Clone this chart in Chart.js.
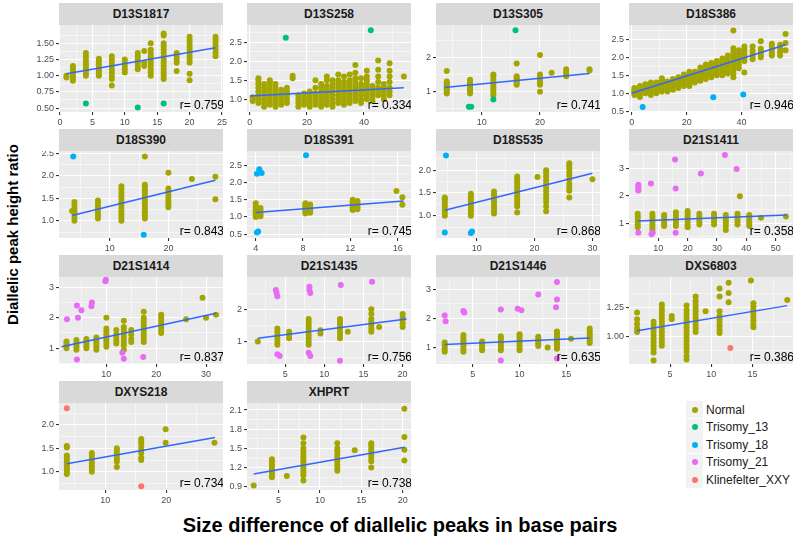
<!DOCTYPE html>
<html>
<head>
<meta charset="utf-8">
<script src="https://cdn.jsdelivr.net/npm/chart.js@4.4.1/dist/chart.umd.min.js"></script>
<style>
  body { margin: 0; width: 800px; height: 539px; position: relative; overflow: hidden; background: #fff;
         font-family: "Liberation Sans", Arial, sans-serif; }
  canvas { position: absolute; }
  .strip { position: absolute; height: 22px; line-height: 22px; background: #D9D9D9; color: #1A1A1A;
           font-weight: bold; font-size: 12px; text-align: center; }
  .title { position: absolute; font-weight: bold; color: #000; white-space: nowrap; text-align: center; }
  #legend { position: absolute; left: 686px; top: 401px; font-size: 12px; color: #1A1A1A; }
  #legend .row { height: 17.5px; display: flex; align-items: center; }
  #legend .key { width: 17px; height: 17px; background: #F2F2F2; display: flex; align-items: center; justify-content: center; margin-right: 3px; }
  #legend .dot { width: 6px; height: 6px; border-radius: 50%; }
</style>
</head>
<body>
<script>
const GROUPS = ['Normal', 'Trisomy_13', 'Trisomy_18', 'Trisomy_21', 'Klinefelter_XXY'];
const GROUP_COLORS = ['#A3A500', '#00BF7D', '#00B0F6', '#E76BF3', '#F8766D'];

// ---- D13S1817 ----
const d13s1817X = [1, 2, 4, 6, 8, 10, 12, 13, 14, 16, 18, 20, 24];
const d13s1817Y = [
  [0.97, 1.0],
  [0.92, 0.96, 1.0, 1.04, 1.08, 1.12, 1.15],
  [1.0, 1.04, 1.08, 1.12, 1.16, 1.2, 1.25, 1.3, 1.35],
  [1.0, 1.04, 1.08, 1.12, 1.17, 1.22, 1.26],
  [0.85, 0.95, 1.0, 1.05, 1.1, 1.15, 1.2, 1.25, 1.3],
  [1.05, 1.1, 1.15, 1.2, 1.25],
  [1.1, 1.15, 1.2, 1.25, 1.3, 1.35],
  [1.15, 1.2, 1.38],
  [1.0, 1.05, 1.1, 1.15, 1.2, 1.25, 1.3, 1.35, 1.4, 1.5],
  [0.95, 1.0, 1.05, 1.1, 1.15, 1.2, 1.25, 1.3, 1.35, 1.4, 1.45, 1.5, 1.62, 1.65],
  [1.07, 1.2, 1.25, 1.3, 1.35],
  [0.93, 1.03, 1.2, 1.25, 1.3, 1.35, 1.4, 1.45, 1.5, 1.55, 1.6],
  [1.3, 1.35, 1.4, 1.45, 1.5, 1.55, 1.6]
];
const d13s1817T13 = [[4, 0.57], [12, 0.51], [16, 0.57]];
const d13s1817Fit = [[1, 1.03], [24, 1.43]];
const d13s1817XTicks = ['0', '5', '10', '15', '20', '25'];
const d13s1817YTicks = ['0.50', '0.75', '1.00', '1.25', '1.50'];

// ---- D13S258 ----
const d13s258X = [1, 3, 5, 7, 9, 11, 13, 15, 17, 19, 21, 23, 25, 27, 29, 31, 33, 35, 37, 39, 41, 43, 45, 47, 49, 54];
const d13s258Y = [
  [0.95, 1.0, 1.05],
  [0.9, 1.0, 1.1, 1.2, 1.3, 1.4, 1.5, 1.55],
  [0.8, 0.9, 1.0, 1.1, 1.2, 1.3, 1.4],
  [0.85, 0.95, 1.05, 1.15, 1.25, 1.35, 1.45, 1.5],
  [0.8, 0.9, 1.0, 1.1, 1.2, 1.3, 1.4],
  [0.85, 0.95, 1.05, 1.15, 1.25],
  [0.9, 1.0, 1.1, 1.2, 1.3],
  [1.55, 1.62],
  [0.8, 0.9, 1.0, 1.1],
  [0.85, 0.95, 1.05, 1.15],
  [0.8, 0.9, 1.0, 1.1, 1.2],
  [0.85, 0.95, 1.05, 1.15, 1.3, 1.5],
  [0.8, 0.9, 1.0, 1.1, 1.2, 1.3, 1.4],
  [0.85, 0.95, 1.05, 1.15, 1.25, 1.35, 1.5, 1.6],
  [0.8, 0.9, 1.0, 1.1, 1.2, 1.3, 1.4, 1.5],
  [0.9, 1.0, 1.1, 1.2, 1.3, 1.4, 1.5, 1.65],
  [0.85, 0.95, 1.05, 1.15, 1.25, 1.35, 1.45, 1.6],
  [0.9, 1.0, 1.1, 1.2, 1.3, 1.4, 1.5, 1.65],
  [0.95, 1.05, 1.15, 1.25, 1.35, 1.45, 1.55, 1.7, 1.9],
  [0.9, 1.0, 1.1, 1.2, 1.3, 1.4, 1.55],
  [1.0, 1.1, 1.2, 1.3, 1.4, 1.5, 1.6, 1.75],
  [0.95, 1.05, 1.15, 1.25, 1.35],
  [1.1, 1.2, 1.3, 1.45, 1.6, 1.78, 2.02],
  [1.0, 1.1, 1.2, 1.3, 1.4],
  [1.1, 1.2, 1.3, 1.45, 1.6, 1.75, 1.95],
  [1.6]
];
const d13s258T13 = [[12.6, 2.62], [42.4, 2.82]];
const d13s258Fit = [[0, 1.08], [54, 1.3]];
const d13s258XTicks = ['0', '20', '40'];
const d13s258YTicks = ['1.0', '1.5', '2.0', '2.5'];

// ---- D13S305 ----
const d13s305X = [4, 8, 12, 16, 20, 22, 24.5, 28.5];
const d13s305Y = [
  [0.95, 1.0, 1.05, 1.1, 1.15, 1.2, 1.25, 1.3, 1.6],
  [0.95, 1.0, 1.05, 1.1, 1.15, 1.2, 1.25, 1.3, 1.35],
  [0.9, 0.97, 1.05, 1.12, 1.2, 1.27, 1.35, 1.45, 1.5],
  [1.2, 1.25, 1.3, 1.35, 1.4, 1.45, 1.82],
  [1.0, 1.2, 1.27, 1.35, 1.42, 1.5, 2.07],
  [1.55],
  [1.45, 1.52, 1.58, 1.65],
  [1.62, 1.65]
];
const d13s305T13 = [[7.8, 0.56], [8.2, 0.56], [12, 0.77], [15.8, 2.79]];
const d13s305Fit = [[3.6, 1.12], [28.5, 1.53]];
const d13s305XTicks = ['10', '20'];
const d13s305YTicks = ['1', '2'];

// ---- D18S386 ----
const d18s386X = [1, 3, 5, 7, 9, 11, 13, 15, 17, 19, 21, 23, 25, 27, 29, 31, 33, 35, 37, 39, 41, 44, 47, 51, 54, 56];
const d18s386Y = [
  [0.95, 1.0, 1.05, 1.1, 1.15],
  [0.9, 0.98, 1.05, 1.12, 1.2],
  [1.0, 1.07, 1.14, 1.21, 1.25],
  [0.95, 1.03, 1.1, 1.18, 1.25, 1.3],
  [1.0, 1.08, 1.15, 1.22, 1.3],
  [1.05, 1.12, 1.2, 1.28, 1.35, 1.42],
  [1.05, 1.12, 1.2, 1.27, 1.33],
  [1.1, 1.18, 1.26, 1.34, 1.4],
  [1.15, 1.22, 1.3, 1.38, 1.45],
  [1.2, 1.28, 1.36, 1.44, 1.52],
  [1.2, 1.28, 1.36, 1.44, 1.52, 1.6],
  [1.3, 1.38, 1.46, 1.54, 1.6],
  [1.35, 1.43, 1.5, 1.58, 1.65, 1.72],
  [1.4, 1.48, 1.56, 1.64, 1.72, 1.8],
  [1.45, 1.52, 1.6, 1.68, 1.76, 1.84],
  [1.5, 1.58, 1.66, 1.74, 1.82, 1.9],
  [1.5, 1.58, 1.66, 1.74, 1.82, 1.9, 1.97],
  [1.55, 1.63, 1.71, 1.79, 1.87, 1.95, 2.05],
  [1.45, 1.55, 1.65, 1.75, 1.85, 1.95, 2.05, 2.15, 2.25, 2.75],
  [1.7, 1.8, 1.9, 2.0, 2.1, 2.2],
  [1.58, 1.9, 1.98, 2.06, 2.14, 2.22, 2.3],
  [1.95, 2.03, 2.11, 2.19, 2.3],
  [2.0, 2.08, 2.16, 2.24, 2.45],
  [2.05, 2.13, 2.21, 2.3, 2.38],
  [2.05, 2.15, 2.25, 2.35],
  [2.2, 2.4, 2.65]
];
const d18s386T18 = [[4, 0.62], [29.7, 0.89], [40.6, 0.97]];
const d18s386Fit = [[0, 1.0], [56, 2.35]];
const d18s386XTicks = ['0', '20', '40'];
const d18s386YTicks = ['0.5', '1.0', '1.5', '2.0', '2.5'];

// ---- D18S390 ----
const d18s390X = [3.6, 4, 8, 12, 16, 20, 24, 28];
const d18s390Y = [
  [1.22],
  [1.0, 1.07, 1.14, 1.21, 1.28, 1.35, 1.42],
  [1.05, 1.12, 1.19, 1.26, 1.33, 1.4, 1.45],
  [1.0, 1.07, 1.14, 1.21, 1.28, 1.35, 1.42, 1.49, 1.56, 1.63, 1.7, 1.77],
  [1.05, 1.12, 1.19, 1.26, 1.33, 1.4, 1.47, 1.54, 1.61, 1.68, 1.75, 1.8, 2.43],
  [1.3, 1.37, 1.44, 1.51, 1.58, 1.65, 1.72, 2.07],
  [1.93],
  [1.98, 1.48]
];
const d18s390T18 = [[3.8, 2.43], [15.8, 0.69]];
const d18s390Fit = [[3.6, 1.12], [28, 1.9]];
const d18s390XTicks = ['10', '20'];
const d18s390YTicks = ['1.0', '1.5', '2.0', '2.5'];

// ---- D18S391 ----
const d18s391X = [4, 4.4, 8.2, 8.6, 12.2, 12.6, 15.9, 16.4];
const d18s391Y = [
  [1.0, 1.05, 1.1, 1.15, 1.2, 1.25, 1.3, 1.4],
  [1.02, 1.08, 1.14, 1.2, 1.26],
  [1.1, 1.15, 1.2, 1.25, 1.3, 1.35, 1.4],
  [1.12, 1.18, 1.24, 1.3, 1.36],
  [1.2, 1.25, 1.3, 1.35, 1.4, 1.45, 1.5],
  [1.22, 1.28, 1.34, 1.4, 1.46],
  [1.75],
  [1.57, 1.35]
];
const d18s391T18 = [[4.1, 2.25], [4.3, 2.3], [4.3, 2.38], [4.5, 2.27], [8.25, 2.79], [4.1, 0.55], [4.2, 0.58]];
const d18s391Fit = [[4, 1.13], [16.5, 1.46]];
const d18s391XTicks = ['4', '8', '12', '16'];
const d18s391YTicks = ['0.5', '1.0', '1.5', '2.0', '2.5'];

// ---- D18S535 ----
const d18s535X = [4.5, 9, 13, 17, 20.5, 22, 26, 30];
const d18s535Y = [
  [1.0, 1.06, 1.12, 1.18, 1.24, 1.3, 1.36, 1.4],
  [1.0, 1.06, 1.12, 1.18, 1.24, 1.3, 1.36, 1.42, 1.48],
  [1.05, 1.11, 1.17, 1.23, 1.29, 1.35, 1.41, 1.47, 1.53],
  [1.07, 1.2, 1.26, 1.32, 1.38, 1.44, 1.5, 1.56, 1.62, 1.68, 1.74, 1.8, 1.86],
  [1.85],
  [1.1, 1.2, 1.3, 1.38, 1.46, 1.54, 1.62, 1.7, 1.78, 1.86, 1.94, 2.0],
  [1.4, 1.55, 1.62, 1.7, 1.8, 1.88, 1.96, 2.04, 2.1, 2.15],
  [1.8]
];
const d18s535T18 = [[4.7, 2.32], [4.5, 0.63], [9.0, 0.62], [9.2, 0.65]];
const d18s535Fit = [[4.5, 1.12], [30, 1.93]];
const d18s535XTicks = ['10', '20', '30'];
const d18s535YTicks = ['1.0', '1.5', '2.0'];

// ---- D21S1411 ----
const d21s1411X = [3, 8, 12, 16, 20, 24, 29, 33, 37, 37.8, 41, 45, 53.5];
const d21s1411Y = [
  [0.85, 0.95, 1.05, 1.15, 1.25, 1.35],
  [0.75, 0.85, 0.95, 1.05, 1.15, 1.25, 1.35],
  [0.9, 1.0, 1.1, 1.2, 1.3],
  [0.9, 1.0, 1.1, 1.2, 1.3, 1.4],
  [0.85, 0.95, 1.05, 1.15, 1.25, 1.35, 1.45],
  [0.95, 1.05, 1.15, 1.25, 1.35],
  [0.95, 1.05, 1.15, 1.25, 1.35],
  [0.75, 0.9, 1.0, 1.1, 1.2, 1.3],
  [0.95, 1.05, 1.15, 1.25, 1.35],
  [1.99],
  [0.9, 1.0, 1.1, 1.2, 1.3],
  [1.2],
  [1.25]
];
const d21s1411T21 = [[3.2, 2.2], [3.2, 2.27], [3.2, 2.34], [3.2, 2.41], [7.5, 2.45], [15.7, 3.33], [15.9, 2.27],
  [24.5, 2.82], [32.7, 3.49], [36.7, 2.98], [3.2, 0.65], [7.7, 0.6], [8.1, 0.65], [15.9, 0.65]];
const d21s1411Fit = [[3, 1.08], [53.7, 1.3]];
const d21s1411XTicks = ['10', '20', '30', '40', '50'];
const d21s1411YTicks = ['1', '2', '3'];

// ---- D21S1414 ----
const d21s1414X = [2, 4, 6, 8, 10, 12, 13.5, 15, 17.5, 21, 26, 29.3, 30, 32];
const d21s1414Y = [
  [1.0, 1.08, 1.16, 1.22],
  [0.95, 1.03, 1.11, 1.19, 1.27],
  [1.0, 1.08, 1.16, 1.24, 1.3],
  [0.95, 1.03, 1.11, 1.19, 1.27, 1.35],
  [1.05, 1.15, 1.25, 1.35, 1.45, 1.55, 1.65, 2.0],
  [1.15, 1.25, 1.35, 1.45, 1.6],
  [0.95, 1.1, 1.2, 1.3, 1.4, 1.5, 1.6, 1.7, 1.9],
  [1.2, 1.3, 1.45, 1.6],
  [1.2, 1.3, 1.4, 1.5, 1.6, 1.7, 1.8, 1.9, 2.0, 2.2],
  [1.5, 1.6, 1.7, 1.8, 1.9, 2.0, 2.1],
  [1.95],
  [2.66],
  [2.0],
  [2.1]
];
const d21s1414T21 = [[2.1, 1.95], [4.3, 2.0], [4.1, 2.4], [5.0, 2.25], [7.0, 2.38], [7.1, 2.5], [9.8, 3.2], [9.9, 3.25],
  [4.1, 0.63], [13.2, 0.85], [13.5, 0.65], [17.4, 0.71]];
const d21s1414Fit = [[1, 1.05], [32, 2.15]];
const d21s1414XTicks = ['10', '20', '30'];
const d21s1414YTicks = ['1', '2', '3'];

// ---- D21S1435 ----
const d21s1435X = [1.5, 4, 5.5, 8, 9.5, 12, 13, 16, 17, 20];
const d21s1435Y = [
  [1.0],
  [0.9, 1.0, 1.1, 1.2, 1.3, 1.4],
  [1.1, 1.2, 1.3],
  [0.9, 1.0, 1.1, 1.2, 1.3, 1.4, 1.5, 1.6, 1.7],
  [1.25, 1.35],
  [1.1, 1.2, 1.3, 1.4, 1.5, 1.6, 1.7],
  [1.3],
  [1.3, 1.4, 1.5, 1.6, 1.7, 1.85, 2.0],
  [1.45],
  [1.45, 1.55, 1.65, 1.75, 1.85]
];
const d21s1435T21 = [[3.8, 2.6], [3.9, 2.5], [4.0, 2.4], [8.1, 2.7], [8.1, 2.6], [8.2, 2.5], [12.1, 2.75], [16.1, 2.85],
  [4.0, 0.6], [4.3, 0.55], [8.0, 0.65], [8.2, 0.55], [12.0, 0.4]];
const d21s1435Fit = [[1.5, 1.1], [20.5, 1.7]];
const d21s1435XTicks = ['5', '10', '15', '20'];
const d21s1435YTicks = ['1', '2'];

// ---- D21S1446 ----
const d21s1446X = [2, 4, 6, 8, 10, 12, 13, 14, 15.5, 17.5];
const d21s1446Y = [
  [0.85, 0.93, 1.01, 1.09, 1.17],
  [0.85, 0.93, 1.01, 1.09, 1.17, 1.25, 1.33, 1.43],
  [0.9, 0.98, 1.06, 1.14, 1.2],
  [0.9, 0.98, 1.06, 1.14, 1.22, 1.3, 1.38],
  [0.9, 0.98, 1.06, 1.14, 1.22, 1.3, 1.38, 1.45],
  [1.05, 1.13, 1.21, 1.29, 1.37],
  [1.0],
  [0.95, 1.03, 1.11, 1.19, 1.27, 1.35, 1.43, 1.51, 1.55],
  [1.3],
  [1.15, 1.23, 1.31, 1.39, 1.47, 1.55, 1.65]
];
const d21s1446T21 = [[2, 2.1], [2.1, 1.9], [4, 2.25], [4.1, 2.2], [8, 2.3], [9.8, 2.33], [10.2, 2.28], [12, 2.82],
  [14, 3.25], [14, 2.65], [13.9, 2.38], [8, 0.55], [14, 0.62]];
const d21s1446Fit = [[2, 1.1], [17.5, 1.32]];
const d21s1446XTicks = ['5', '10', '15'];
const d21s1446YTicks = ['1', '2', '3'];

// ---- DXS6803 ----
const dxs6803X = [1, 3, 4, 5.2, 7, 8.1, 9.3, 11, 12.1, 14.8, 15.1, 19.2];
const dxs6803Y = [
  [1.04, 1.07, 1.11, 1.15, 1.21],
  [0.79, 0.86, 0.89, 0.92, 0.95, 0.98, 1.01, 1.04, 1.07, 1.1, 1.13],
  [0.92, 0.95, 0.98, 1.01, 1.04, 1.07, 1.1, 1.13, 1.16, 1.19, 1.22, 1.25, 1.28],
  [1.15, 1.18],
  [0.8, 0.83, 0.87, 0.9, 0.93, 0.96, 0.99, 1.02, 1.05, 1.08, 1.11, 1.14, 1.17, 1.2, 1.23, 1.27],
  [1.04, 1.07, 1.1, 1.13, 1.16, 1.19, 1.22, 1.25, 1.28, 1.31, 1.35],
  [1.22],
  [1.03, 1.06, 1.09, 1.12, 1.15, 1.18, 1.22, 1.35, 1.42],
  [1.3, 1.38, 1.47],
  [1.49],
  [1.08, 1.11, 1.14, 1.17, 1.2, 1.23, 1.26, 1.29],
  [1.32]
];
const dxs6803KF = [[12.3, 0.9]];
const dxs6803Fit = [[1, 1.05], [19.2, 1.27]];
const dxs6803XTicks = ['5', '10', '15'];
const dxs6803YTicks = ['1.00', '1.25'];

// ---- DXYS218 ----
const dxys218X = [3.7, 7.8, 11.9, 15.9, 19.9, 27.9];
const dxys218Y = [
  [0.95, 1.0, 1.05, 1.1, 1.15, 1.2, 1.25, 1.3, 1.35, 1.52, 1.55],
  [1.0, 1.06, 1.12, 1.18, 1.24, 1.3, 1.36, 1.4],
  [1.1, 1.22, 1.28, 1.34, 1.4, 1.46, 1.5],
  [1.25, 1.3, 1.4, 1.46, 1.52, 1.6, 1.66, 1.7],
  [1.62, 1.91],
  [1.62]
];
const dxys218KF = [[3.7, 2.36], [15.9, 0.69]];
const dxys218Fit = [[3.7, 1.17], [28, 1.73]];
const dxys218XTicks = ['10', '20'];
const dxys218YTicks = ['1.0', '1.5', '2.0'];

// ---- XHPRT ----
const xhprtX = [2, 4.2, 6, 8, 12.1, 14.2, 16.2, 20.2];
const xhprtY = [
  [0.92],
  [1.05, 1.09, 1.13, 1.17, 1.21, 1.25, 1.29, 1.33],
  [1.07],
  [1.0, 1.08, 1.12, 1.16, 1.2, 1.24, 1.28, 1.32, 1.36, 1.4, 1.45, 1.5, 1.58, 1.67],
  [1.15, 1.2, 1.25, 1.3, 1.35, 1.4, 1.45, 1.5, 1.58],
  [1.47],
  [1.2, 1.3, 1.35, 1.4, 1.45, 1.5, 1.55, 1.58],
  [1.31, 1.48, 1.68, 2.12]
];
const xhprtFit = [[2, 1.1], [20.2, 1.52]];
const xhprtXTicks = ['5', '10', '15', '20'];
const xhprtYTicks = ['0.9', '1.2', '1.5', '1.8', '2.1'];

// layout of the facet grid
const AXIS_W = 34, AXIS_H = 20, PANEL_W = 164, PANEL_H = 87, STRIP_H = 22, RIGHT_PAD = 10;
const COL_LEFT = [59, 247, 436, 629];
const ROW_TOP = [25, 151, 277, 403];
const FONT = '"Liberation Sans", Arial, sans-serif';

const panels = [
  { name: 'D13S1817', r: '0.759', xs: d13s1817X, ys: d13s1817Y, extra: [[1, d13s1817T13]], fit: d13s1817Fit,
    xTicks: d13s1817XTicks, yTicks: d13s1817YTicks, x: [-0.15, 25.15], y: [0.44, 1.78] },
  { name: 'D13S258', r: '0.334', xs: d13s258X, ys: d13s258Y, extra: [[1, d13s258T13]], fit: d13s258Fit,
    xTicks: d13s258XTicks, yTicks: d13s258YTicks, x: [-1, 56.5], y: [0.66, 2.96] },
  { name: 'D13S305', r: '0.741', xs: d13s305X, ys: d13s305Y, extra: [[1, d13s305T13]], fit: d13s305Fit,
    xTicks: d13s305XTicks, yTicks: d13s305YTicks, x: [2.16, 30.3], y: [0.41, 2.94] },
  { name: 'D18S386', r: '0.946', xs: d18s386X, ys: d18s386Y, extra: [[2, d18s386T18]], fit: d18s386Fit,
    xTicks: d18s386XTicks, yTicks: d18s386YTicks, x: [-0.97, 58.7], y: [0.48, 2.9] },
  { name: 'D18S390', r: '0.843', xs: d18s390X, ys: d18s390Y, extra: [[2, d18s390T18]], fit: d18s390Fit,
    xTicks: d18s390XTicks, yTicks: d18s390YTicks, x: [1.37, 29.3], y: [0.62, 2.55] },
  { name: 'D18S391', r: '0.745', xs: d18s391X, ys: d18s391Y, extra: [[2, d18s391T18]], fit: d18s391Fit,
    xTicks: d18s391XTicks, yTicks: d18s391YTicks, x: [3.26, 17.13], y: [0.39, 2.91] },
  { name: 'D18S535', r: '0.868', xs: d18s535X, ys: d18s535Y, extra: [[2, d18s535T18]], fit: d18s535Fit,
    xTicks: d18s535XTicks, yTicks: d18s535YTicks, x: [2.98, 31.3], y: [0.51, 2.42] },
  { name: 'D21S1411', r: '0.358', xs: d21s1411X, ys: d21s1411Y, extra: [[3, d21s1411T21]], fit: d21s1411Fit,
    xTicks: d21s1411XTicks, yTicks: d21s1411YTicks, x: [0.02, 55.9], y: [0.46, 3.64] },
  { name: 'D21S1414', r: '0.837', xs: d21s1414X, ys: d21s1414Y, extra: [[3, d21s1414T21]], fit: d21s1414Fit,
    xTicks: d21s1414XTicks, yTicks: d21s1414YTicks, x: [0.5, 33.4], y: [0.48, 3.34] },
  { name: 'D21S1435', r: '0.756', xs: d21s1435X, ys: d21s1435Y, extra: [[3, d21s1435T21]], fit: d21s1435Fit,
    xTicks: d21s1435XTicks, yTicks: d21s1435YTicks, x: [0.12, 21.07], y: [0.3, 3.0] },
  { name: 'D21S1446', r: '0.635', xs: d21s1446X, ys: d21s1446Y, extra: [[3, d21s1446T21]], fit: d21s1446Fit,
    xTicks: d21s1446XTicks, yTicks: d21s1446YTicks, x: [1.07, 18.6], y: [0.43, 3.42] },
  { name: 'DXS6803', r: '0.386', xs: dxs6803X, ys: dxs6803Y, extra: [[4, dxs6803KF]], fit: dxs6803Fit,
    xTicks: dxs6803XTicks, yTicks: dxs6803YTicks, x: [0.02, 19.9], y: [0.76, 1.52] },
  { name: 'DXYS218', r: '0.734', xs: dxys218X, ys: dxys218Y, extra: [[4, dxys218KF]], fit: dxys218Fit,
    xTicks: dxys218XTicks, yTicks: dxys218YTicks, x: [2.42, 29.3], y: [0.61, 2.47] },
  { name: 'XHPRT', r: '0.738', xs: xhprtX, ys: xhprtY, extra: [], fit: xhprtFit,
    xTicks: xhprtXTicks, yTicks: xhprtYTicks, x: [1.19, 21.0], y: [0.85, 2.21] }
];

// grey panel background
const panelBg = {
  id: 'panelBg',
  beforeDraw(chart) {
    const { ctx, chartArea: a } = chart;
    ctx.save();
    ctx.fillStyle = '#EBEBEB';
    ctx.fillRect(a.left, a.top, a.right - a.left, a.bottom - a.top);
    ctx.restore();
  }
};

// "r= ..." text in the bottom right corner of each panel
const rLabel = {
  id: 'rLabel',
  afterDraw(chart, args, opts) {
    const { ctx, chartArea: a } = chart;
    ctx.save();
    ctx.beginPath();
    ctx.rect(a.left, a.top, a.right - a.left, a.bottom - a.top);
    ctx.clip();
    ctx.font = '12px ' + FONT;
    ctx.fillStyle = '#000';
    ctx.textAlign = 'right';
    ctx.textBaseline = 'alphabetic';
    ctx.fillText('r= ' + opts.text, a.right + 1, a.bottom - 3);
    ctx.restore();
  }
};

function isLabel(labels, v) {
  return labels.findIndex(l => Math.abs(Number(l) - v) < 1e-9);
}

function scaleOpts(isX, range, labels) {
  const major = labels.map(Number);
  const step = major[1] - major[0];
  const values = major.slice();
  for (let k = -1; k < major.length; k++) {
    const v = major[0] + (k + 0.5) * step;
    if (v > range[0] && v < range[1]) values.push(v);
  }
  values.sort((a, b) => a - b);
  return {
    type: 'linear',
    position: isX ? 'bottom' : 'left',
    min: range[0],
    max: range[1],
    afterBuildTicks: s => { s.ticks = values.map(v => ({ value: v })); },
    afterFit: s => {
      if (isX) { s.height = AXIS_H; s.paddingLeft = 0; s.paddingRight = 0; }
      else { s.width = AXIS_W; s.paddingTop = 0; s.paddingBottom = 0; }
    },
    ticks: {
      autoSkip: false, maxRotation: 0, padding: 2, color: '#4D4D4D',
      font: { size: 9, family: FONT },
      callback: v => { const i = isLabel(labels, v); return i >= 0 ? labels[i] : ''; }
    },
    grid: {
      color: '#FFFFFF',
      lineWidth: c => (c.tick && isLabel(labels, c.tick.value) >= 0) ? 1.1 : 0.5,
      tickColor: c => (c.tick && isLabel(labels, c.tick.value) >= 0) ? '#333333' : 'rgba(0,0,0,0)',
      tickLength: 3,
      drawTicks: true
    },
    border: { display: false }
  };
}

panels.forEach((p, i) => {
  const col = i % 4, row = Math.floor(i / 4);
  const left = COL_LEFT[col], top = ROW_TOP[row];

  const strip = document.createElement('div');
  strip.className = 'strip';
  strip.style.left = left + 'px';
  strip.style.top = (top - STRIP_H) + 'px';
  strip.style.width = PANEL_W + 'px';
  strip.textContent = p.name;
  document.body.appendChild(strip);

  const cv = document.createElement('canvas');
  cv.width = AXIS_W + PANEL_W + RIGHT_PAD;
  cv.height = PANEL_H + AXIS_H;
  cv.style.left = (left - AXIS_W) + 'px';
  cv.style.top = top + 'px';
  document.body.appendChild(cv);

  const normal = p.xs.flatMap((x, k) => p.ys[k].map(y => ({ x, y })));
  const datasets = [{
    data: p.fit.map(([x, y]) => ({ x, y })),
    showLine: true, borderColor: '#3366FF', borderWidth: 1.5, pointRadius: 0, order: 0
  }];
  p.extra.forEach(([g, pts]) => {
    datasets.push({
      label: GROUPS[g], data: pts.map(([x, y]) => ({ x, y })),
      backgroundColor: GROUP_COLORS[g], pointRadius: 3, borderWidth: 0, order: 1
    });
  });
  datasets.push({
    label: GROUPS[0], data: normal,
    backgroundColor: GROUP_COLORS[0], pointRadius: 3, borderWidth: 0, order: 2
  });

  new Chart(cv, {
    type: 'scatter',
    data: { datasets },
    options: {
      responsive: false,
      animation: false,
      events: [],
      layout: { padding: { left: 0, top: 0, bottom: 0, right: RIGHT_PAD }, autoPadding: false },
      plugins: { legend: { display: false }, tooltip: { enabled: false }, rLabel: { text: p.r } },
      scales: { x: scaleOpts(true, p.x, p.xTicks), y: scaleOpts(false, p.y, p.yTicks) }
    },
    plugins: [panelBg, rLabel]
  });
});

// axis titles
const xt = document.createElement('div');
xt.className = 'title';
xt.style.fontSize = '20px';
xt.style.left = '100px'; xt.style.width = '600px'; xt.style.top = '514px';
xt.textContent = 'Size difference of diallelic peaks in base pairs';
document.body.appendChild(xt);

const yt = document.createElement('div');
yt.className = 'title';
yt.style.fontSize = '15px';
yt.style.left = '-138px'; yt.style.width = '300px'; yt.style.top = '226px';
yt.style.transform = 'rotate(-90deg)';
yt.textContent = 'Diallelic peak height ratio';
document.body.appendChild(yt);

// legend
const legend = document.createElement('div');
legend.id = 'legend';
GROUPS.forEach((g, k) => {
  const row = document.createElement('div');
  row.className = 'row';
  row.innerHTML = '<div class="key"><div class="dot" style="background:' + GROUP_COLORS[k] + '"></div></div><span>' + g + '</span>';
  legend.appendChild(row);
});
document.body.appendChild(legend);
</script>
</body>
</html>
